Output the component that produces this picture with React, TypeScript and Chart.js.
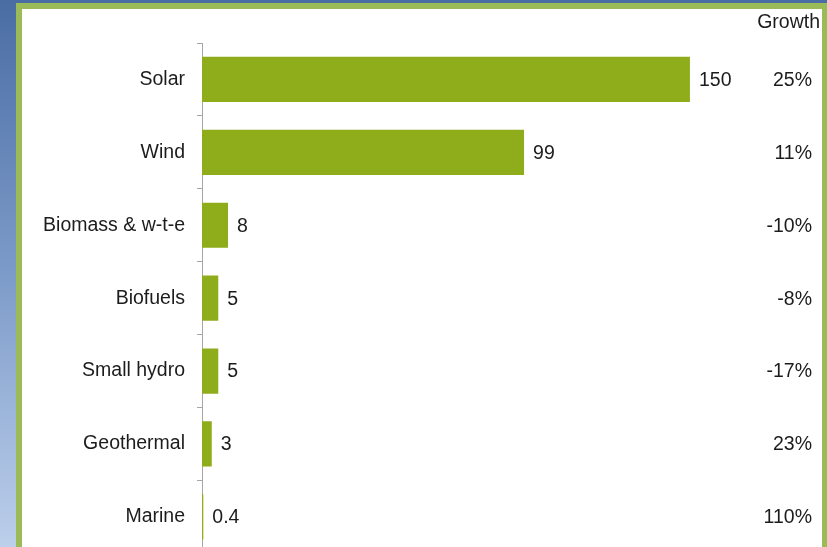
import React, { useEffect, useRef } from "react";
import { Chart, registerables } from "chart.js";

Chart.register(...registerables);

const categories = ["Solar", "Wind", "Biomass & w-t-e", "Biofuels", "Small hydro", "Geothermal", "Marine"];
const investment = [150, 99, 8, 5, 5, 3, 0.4];
const valueLabels = ["150", "99", "8", "5", "5", "3", "0.4"];
const growthLabels = ["25%", "11%", "-10%", "-8%", "-17%", "23%", "110%"];
const growthHeader = "Growth";

const FONT = '"Liberation Sans", Arial, sans-serif';
const TEXT = "#1c1c1c";
const BAR = "#8fad1b";

const labelPlugin = {
  id: "labels",
  afterDatasetsDraw(chart: any) {
    const ctx = chart.ctx;
    const meta = chart.getDatasetMeta(0);
    ctx.save();
    ctx.font = "19.5px " + FONT;
    ctx.fillStyle = TEXT;
    ctx.textBaseline = "middle";
    meta.data.forEach((bar: any, i: number) => {
      ctx.textAlign = "left";
      ctx.fillText(valueLabels[i], bar.x + 9, bar.y + 1);
      ctx.textAlign = "right";
      ctx.fillText(growthLabels[i], 812, bar.y + 1);
    });
    ctx.textAlign = "right";
    ctx.fillText(growthHeader, 820, 23);
    ctx.restore();
  },
};

export default function App() {
  const ref = useRef<HTMLCanvasElement>(null);
  useEffect(() => {
    if (!ref.current) return;
    const chart = new Chart(ref.current, {
      type: "bar",
      data: {
        labels: categories,
        datasets: [
          {
            data: investment,
            backgroundColor: BAR,
            borderWidth: 0,
            categoryPercentage: 1,
            barPercentage: 0.62,
          },
        ],
      },
      options: {
        indexAxis: "y",
        animation: false,
        responsive: false,
        maintainAspectRatio: false,
        layout: { padding: { left: 0, right: 72, top: 43, bottom: 3 } },
        plugins: { legend: { display: false }, tooltip: { enabled: false } },
        scales: {
          x: { display: false, min: 0, max: 170 },
          y: {
            afterFit(scale: any) {
              scale.width = 202;
            },
            border: { display: true, color: "#a6a6a6", width: 1 },
            grid: { drawOnChartArea: false, drawTicks: true, tickLength: 5, color: "#a6a6a6", offset: true },
            ticks: { color: TEXT, font: { family: FONT, size: 19.5 }, padding: 12 },
          },
        },
      },
      plugins: [labelPlugin],
    });
    return () => chart.destroy();
  }, []);

  return (
    <div
      style={{
        position: "fixed",
        left: 0,
        top: 0,
        width: 827,
        height: 547,
        overflow: "hidden",
        background: "linear-gradient(to bottom, #4a6da4 0%, #7d9bc9 50%, #bccfeb 100%)",
      }}
    >
      <div
        style={{
          position: "absolute",
          left: 16,
          top: 3,
          width: 812,
          height: 620,
          boxSizing: "border-box",
          border: "6px solid #9bbb59",
          background: "#ffffff",
        }}
      />
      <canvas ref={ref} width={827} height={577} style={{ position: "absolute", left: 0, top: 0 }} />
    </div>
  );
}
